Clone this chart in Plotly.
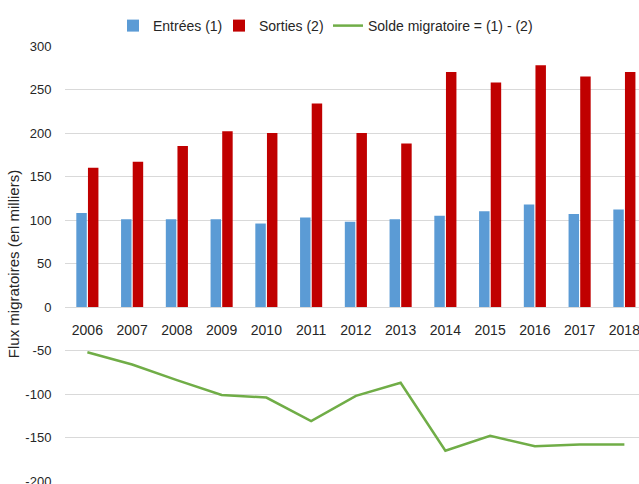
import plotly.graph_objects as go

years = ["2006", "2007", "2008", "2009", "2010", "2011", "2012",
         "2013", "2014", "2015", "2016", "2017", "2018"]
entrees = [108, 101, 101, 101, 96, 103, 98, 101, 105, 110, 118, 107, 112]
sorties = [160, 167, 185, 202, 200, 234, 200, 188, 270, 258, 278, 265, 270]
solde = [-52, -66, -84, -101, -104, -131, -102, -87, -165, -148, -160, -158, -158]
y_ticks = [-200, -150, -100, -50, 0, 50, 100, 150, 200, 250, 300]
y_tick_labels = ["-200", "-150", "-100", "-50", "0", "50", "100", "150",
                 "200", "250", "300"]

FONT = "Liberation Sans, Arial, sans-serif"
TXT = "#262626"
W, H = 639, 484
ML, MT, MB, MR = 65, 46, 2, 0
plot_w = W - ML - MR
plot_h = H - MT - MB
cat_px = 44.75
x_right = -0.5 + plot_w / cat_px


def px_x(p):
    return (p - ML) / plot_w


leg_y = 1 + (MT - 26) / plot_h

fig = go.Figure()
fig.add_trace(go.Bar(x=years, y=entrees, name="Entrées (1)", legend="legend",
                     marker=dict(color="#5B9BD5", line=dict(width=0))))
fig.add_trace(go.Bar(x=years, y=sorties, name="Sorties (2)", legend="legend2",
                     marker=dict(color="#C00000", line=dict(width=0))))
fig.add_trace(go.Scatter(x=years, y=solde, name="Solde migratoire = (1) - (2)",
                         legend="legend3", mode="lines",
                         line=dict(color="#70AD47", width=2.5)))

leg_common = dict(orientation="h", xanchor="left", yanchor="middle", y=leg_y,
                  font=dict(size=14, color=TXT), itemwidth=30,
                  bgcolor="rgba(0,0,0,0)", borderwidth=0)

fig.update_layout(
    width=W, height=H,
    margin=dict(l=ML, r=MR, t=MT, b=MB, pad=0, autoexpand=False),
    paper_bgcolor="white", plot_bgcolor="white",
    barmode="group", bargap=0.48, bargroupgap=0.1,
    font=dict(family=FONT, size=13, color=TXT),
    showlegend=True,
    legend=dict(x=px_x(153 - 40), **leg_common),
    legend2=dict(x=px_x(259 - 40), **leg_common),
    legend3=dict(x=px_x(368 - 40), **leg_common),
    xaxis=dict(type="category", range=[-0.5, x_right], anchor="free",
               position=0.4, showgrid=False, showline=False, zeroline=False,
               automargin=False,
               ticks="outside", ticklen=10, tickcolor="rgba(0,0,0,0)",
               tickfont=dict(size=14, color=TXT)),
    yaxis=dict(range=[-201, 300], tickvals=y_ticks, ticktext=y_tick_labels,
               showgrid=True, ticklabeloverflow="allow",
               gridcolor="#D9D9D9", gridwidth=1, zeroline=True,
               zerolinecolor="#D9D9D9", zerolinewidth=1, showline=False,
               automargin=False,
               ticks="outside", ticklen=10, tickcolor="rgba(0,0,0,0)",
               tickfont=dict(size=13, color=TXT),
               title=dict(text="Flux migratoires (en milliers)",
                          font=dict(size=15, color=TXT), standoff=2)),
)

fig.write_html("out.html",
               config={"displayModeBar": False},
               post_script="document.body.style.margin='0';"
                           "document.body.style.overflow='hidden';")
